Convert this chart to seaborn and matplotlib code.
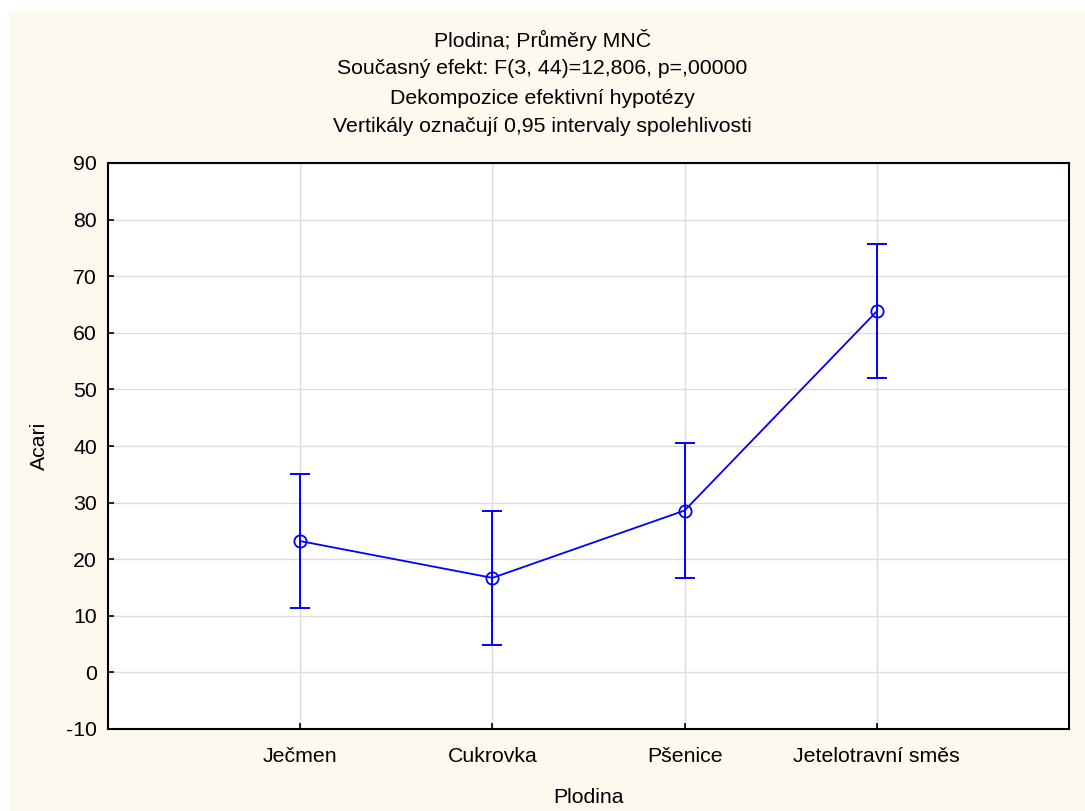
import matplotlib
matplotlib.use("Agg")
import matplotlib.pyplot as plt
from matplotlib.patches import Rectangle
import seaborn as sns
import pandas as pd

categories = ["Ječmen", "Cukrovka", "Pšenice", "Jetelotravní směs"]
means = [23.2, 16.7, 28.6, 63.8]
ci_low = [11.3, 4.9, 16.7, 52.0]
ci_high = [35.1, 28.6, 40.5, 75.7]
yticks = [-10, 0, 10, 20, 30, 40, 50, 60, 70, 80, 90]
title_lines = ["Plodina; Průměry MNČ",
               "Současný efekt: F(3, 44)=12,806, p=,00000",
               "Dekompozice efektivní hypotézy",
               "Vertikály označují 0,95 intervaly spolehlivosti"]

sns.set_theme(style="white")
plt.rcParams['font.family'] = ['Liberation Sans', 'DejaVu Sans']

df = pd.DataFrame({"Plodina": categories, "Acari": means,
                   "low": ci_low, "high": ci_high})

cream = "#FEF9EF"
fig = plt.figure(figsize=(10.85, 8.11), dpi=100, facecolor=cream)
# white margin strips at top and left
fig.patches.append(Rectangle((0, 1 - 10/811), 1, 10/811, transform=fig.transFigure,
                             facecolor="white", edgecolor="none", zorder=-10))
fig.patches.append(Rectangle((0, 0), 9/1085, 1, transform=fig.transFigure,
                             facecolor="white", edgecolor="none", zorder=-10))
ax = fig.add_axes([108/1085, 1 - 729/811, (1069 - 108)/1085, (729 - 163)/811])
ax.set_facecolor("white")

blue = "#0000FF"
sns.lineplot(data=df, x="Plodina", y="Acari", ax=ax, color=blue, linewidth=1.3,
             marker="o", markersize=8.8, markerfacecolor="none",
             markeredgecolor=blue, markeredgewidth=1.3, zorder=3)
pos = list(range(len(categories)))
ax.errorbar(pos, df["Acari"],
            yerr=[df["Acari"] - df["low"], df["high"] - df["Acari"]],
            fmt="none", ecolor=blue, elinewidth=1.4, capsize=7, capthick=1.4, zorder=3)

ax.set_xlim(-1, 4)
ax.set_ylim(-10, 90)
ax.set_yticks(yticks)
ax.set_yticklabels([str(t) for t in yticks])
ax.set_xticks(pos)
ax.set_xticklabels(categories)
ax.grid(True, color="#DCDCDC", linewidth=1.0)
ax.set_axisbelow(True)
for s in ax.spines.values():
    s.set_color("black")
    s.set_linewidth(1.5)
ax.tick_params(axis="both", direction="in", length=4, width=1.2, color="black",
               labelsize=15.3, labelcolor="black", left=True, bottom=True, pad=8)
ax.tick_params(axis="x", pad=13)
ax.set_xlabel("Plodina", fontsize=15.3, color="black", labelpad=16)
ax.set_ylabel("Acari", fontsize=15.3, color="black", labelpad=12)

for i, line in enumerate(title_lines):
    fig.text(0.5, 1 - (40 + 29 * i) / 811, line, ha="center", va="center",
             fontsize=15.3, color="black")

fig.savefig("out.png", dpi=100, facecolor=cream)
